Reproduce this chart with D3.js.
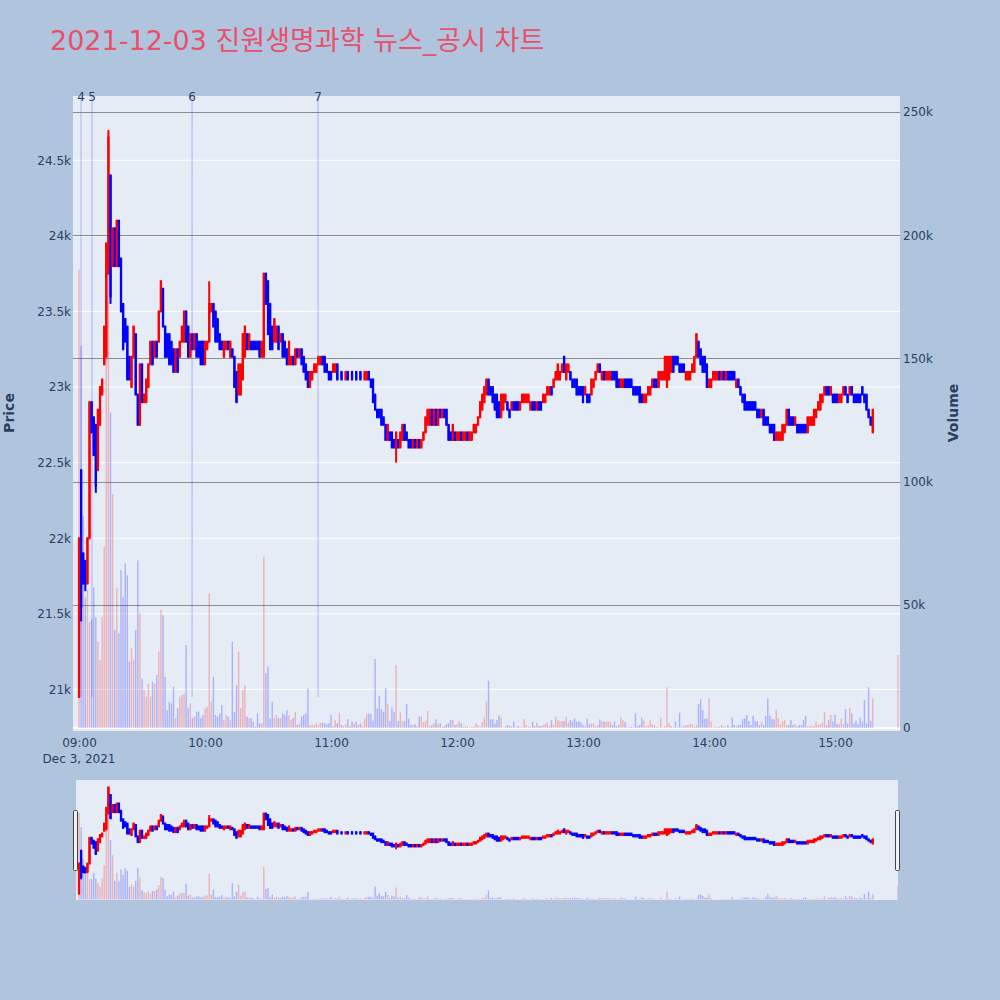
<!DOCTYPE html>
<html><head><meta charset="utf-8">
<script src="https://cdn.jsdelivr.net/npm/d3@7"></script>
<style>
body{margin:0;background:#b0c4de;}
text{font-family:'DejaVu Sans','Noto Sans CJK KR',sans-serif;}
</style>
</head><body>
<script>
// ---------------- DATA ----------------
const chartTitle = '2021-12-03 진원생명과학 뉴스_공시 차트';
const sessionStart = '09:00';           // first 1-minute bar, bars are consecutive minutes
const opens = [
20950,22450,21900,21850,21700,22000,22900,22800,22750,22450,
22750,22950,23150,23200,23750,24400,23800,24050,23800,24100,
23850,23550,23450,23400,23200,23000,23200,23350,22950,22750,
23150,22900,22900,23000,23150,23300,23200,23300,23300,23500,
23650,23400,23350,23350,23300,23250,23100,23250,23200,23300,
23300,23500,23400,23200,23350,23250,23350,23300,23300,23300,
23150,23250,23300,23500,23550,23500,23450,23350,23300,23200,
23250,23300,23200,23250,23200,23100,22950,22950,23050,23200,
23350,23250,23300,23300,23300,23300,23300,23200,23200,23750,
23700,23550,23400,23300,23300,23400,23300,23350,23300,23250,
23150,23150,23200,23150,23250,23200,23250,23200,23150,23100,
23000,23050,23100,23100,23150,23150,23200,23200,23150,23100,
23100,23100,23100,23150,23100,23100,23100,23050,23100,23100,
23100,23100,23100,23100,23100,23100,23050,23050,23100,23050,
23050,22950,22850,22850,22850,22800,22750,22650,22700,22700,
22650,22600,22650,22600,22650,22750,22700,22650,22650,22600,
22650,22600,22650,22600,22650,22700,22750,22750,22850,22750,
22850,22750,22850,22800,22850,22850,22750,22700,22650,22700,
22650,22650,22700,22650,22650,22700,22650,22650,22700,22700,
22750,22800,22850,22900,22950,23050,23000,23000,22950,22950,
22900,22800,22850,22900,22900,22850,22850,22900,22900,22900,
22850,22900,22900,22900,22900,22850,22900,22900,22850,22900,
22900,22900,22900,22950,22950,23000,23000,23050,23050,23050,
23100,23200,23050,23100,23100,23050,23050,23050,23000,23000,
23000,22950,22950,22950,22950,23000,23050,23100,23150,23050,
23100,23050,23050,23050,23100,23100,23100,23050,23000,23000,
23050,23050,23050,23050,23000,23000,23000,23000,22950,22900,
22900,22950,22950,23000,23050,23050,23000,23050,23050,23050,
23000,23050,23100,23200,23200,23200,23150,23150,23150,23050,
23050,23050,23100,23100,23200,23300,23250,23200,23200,23150,
23000,23000,23050,23050,23050,23100,23050,23100,23050,23100,
23100,23100,23100,23000,23050,23000,22950,22950,22900,22900,
22900,22900,22900,22850,22850,22800,22850,22800,22800,22750,
22750,22750,22650,22650,22650,22650,22700,22750,22850,22800,
22800,22750,22750,22750,22750,22750,22750,22700,22750,22750,
22750,22800,22850,22850,22900,22950,23000,23000,22950,22950,
22950,22950,22900,22900,22950,23000,22950,22950,23000,22950,
22950,22950,22950,23000,22950,22950,22850,22800,22700
];
const closes = [
22000,21550,21700,21700,22000,22900,22700,22550,22350,22850,
23000,23050,23400,23950,24650,23600,24050,23800,24100,23800,
23500,23250,23300,23050,23050,23200,23400,22950,22750,23150,
22900,22950,23050,23150,23300,23150,23300,23200,23500,23700,
23400,23200,23200,23150,23150,23100,23250,23100,23300,23400,
23500,23300,23200,23350,23250,23350,23200,23200,23150,23150,
23300,23300,23550,23550,23400,23300,23300,23250,23250,23300,
23300,23250,23300,23200,23000,22900,23150,23150,23350,23400,
23250,23350,23250,23250,23250,23250,23200,23300,23750,23550,
23350,23250,23250,23450,23400,23250,23350,23200,23200,23150,
23300,23200,23150,23250,23200,23250,23150,23100,23050,23000,
23100,23100,23150,23150,23200,23200,23150,23100,23100,23050,
23050,23150,23150,23050,23100,23050,23100,23100,23050,23100,
23050,23100,23050,23100,23050,23100,23100,23100,23050,23000,
22900,22850,22800,22800,22750,22750,22650,22750,22650,22600,
22600,22700,22600,22700,22750,22650,22650,22600,22600,22650,
22600,22650,22600,22650,22700,22800,22850,22850,22750,22850,
22750,22850,22800,22850,22800,22750,22650,22650,22750,22650,
22700,22700,22650,22700,22700,22650,22700,22700,22750,22750,
22800,22900,22950,23000,23050,22950,22950,22900,22850,22800,
22800,22950,22950,22950,22850,22800,22900,22850,22850,22850,
22900,22950,22950,22950,22950,22900,22850,22850,22900,22850,
22850,22950,22950,23000,23000,22950,23050,23100,23150,23100,
23150,23100,23150,23150,23050,23000,23000,22950,22950,22950,
22900,23000,22900,22900,23050,23050,23100,23150,23100,23100,
23050,23100,23100,23100,23050,23050,23000,23000,23050,23050,
23000,23000,23000,23000,22950,22950,22950,22900,22900,22950,
22950,23000,23000,23050,23000,23000,23100,23100,23100,23200,
23200,23200,23200,23100,23150,23150,23100,23100,23100,23100,
23100,23100,23150,23200,23350,23200,23150,23100,23100,23000,
23050,23050,23100,23100,23100,23050,23100,23050,23100,23050,
23050,23050,23050,23050,23000,22950,22900,22850,22850,22850,
22850,22850,22850,22800,22800,22850,22750,22750,22750,22700,
22700,22650,22700,22700,22700,22750,22750,22850,22750,22750,
22750,22800,22700,22700,22700,22700,22700,22800,22800,22800,
22850,22850,22900,22950,22950,23000,22950,22950,23000,22900,
22900,22900,22950,22950,23000,22950,22900,23000,22950,22900,
22900,22900,22900,22950,22900,22850,22800,22750,22850
];
const volumes = [
186000,155000,86000,53000,56000,43000,44000,57000,45000,35000,
27600,45000,73600,196000,242000,128000,95000,39800,57000,38400,
64000,53000,66800,62000,26900,32300,27600,39800,68000,46500,
20100,15400,12700,18000,12700,18800,18000,21500,31000,47900,
45800,20800,7300,10700,10000,16800,4000,8000,12700,13400,
14000,33700,8000,10000,4000,4600,6600,6600,4000,5300,
8000,8600,54600,10700,20800,5300,4600,5900,9300,3200,
5300,4600,3200,35000,6600,17400,31000,8000,15400,17400,
4600,4000,4000,2500,500,5900,1900,1900,69500,22200,
24900,4000,10700,4000,5300,4000,4000,5900,5300,7300,
5300,3200,4000,6600,1200,1900,4600,5300,5900,16000,
1200,1200,1200,1900,1200,1900,2200,1900,1500,2000,
5300,800,3200,1900,6200,1200,800,1600,3600,800,
2600,1900,2600,1200,1900,800,3900,5700,5900,5700,
3000,28000,8000,13000,7600,6600,16100,9700,2800,8400,
6600,25600,2800,6300,2800,2800,9700,3900,1200,1200,
1500,800,4600,4600,2300,2600,6900,800,1200,1900,
3500,1600,1900,500,800,1600,1900,3200,3200,1200,
1500,2800,1900,500,800,500,300,500,500,1900,
1200,500,2300,4200,10700,19200,3600,3500,1900,3200,
5100,4200,300,500,1200,800,800,2600,300,800,
500,500,3600,1200,500,500,2600,800,2200,800,
800,1200,1600,2200,800,3200,1200,4600,3200,2800,
2800,2800,4600,2200,3200,2600,3900,2600,2800,2200,
1200,800,3900,1500,1900,1900,800,1200,3500,2600,
2600,2600,2600,2600,1200,2600,800,1200,4300,3200,
2400,300,300,500,300,5900,800,1200,4300,3000,
800,1200,3200,1600,1200,300,300,4300,300,800,
16500,1900,800,300,2600,300,6200,300,800,1200,
1200,1600,1600,500,1200,9700,11750,7300,3800,3900,
12000,2600,300,500,500,500,1200,500,300,1200,
300,4300,1200,800,1200,1200,3650,3900,5270,2800,
1200,5000,2800,2800,1200,2300,1200,4900,12000,5100,
3800,3500,7300,3900,1600,2600,3200,1200,1200,3200,
1200,1600,500,1200,1200,3200,4900,500,800,800,
800,2600,1200,1600,2200,6500,1200,3200,5300,2600,
5300,1600,1600,3900,1600,7700,1900,8250,5900,1900,
3000,1600,4300,2600,11400,1900,16500,2800,12000
];
// wick extremes that reach beyond the candle body
const wickIdx  = [1,     3,     8,     14,    15,    62,    88,    151];
const wickHigh = [22450, null,  null,  24700, null,  23700, 23750, null];
const wickLow  = [21450, 21650, 22300, null,  23550, null,  null,  22500];
// closing auction bar
const auctionTime = '15:30';
const auctionOpen = 22900, auctionClose = 22900, auctionVolume = 29600;
// news / disclosure markers
const newsTimes  = ['09:00:57', '09:06:10', '09:53:50', '10:53:50'];
const newsLabels = ['4', '5', '6', '7'];
const newsSpan   = [20950, 24925];
// axes
const priceTicks  = [21000, 21500, 22000, 22500, 23000, 23500, 24000, 24500];
const volumeTicks = [0, 50000, 100000, 150000, 200000, 250000];
const timeTicks   = ['09:00','10:00','11:00','12:00','13:00','14:00','15:00'];
const dateLabel   = 'Dec 3, 2021';
const priceRange  = [20725, 24925];
const volumeRange = [-1218, 256494];
const timeRange   = ['08:57:08', '15:30:57'];

// ---------------- BUILD ----------------
const day = (s) => { const p = s.split(':').map(Number); return new Date(2021, 11, 3, p[0], p[1], p[2] || 0); };
const t0 = day(sessionStart);
const nReg = Math.min(opens.length, closes.length, volumes.length);
const bars = [];
for (let i = 0; i < nReg; i++) bars.push({t: new Date(t0.getTime() + i * 60000), o: opens[i], c: closes[i], v: volumes[i]});
bars.push({t: day(auctionTime), o: auctionOpen, c: auctionClose, v: auctionVolume});
let prevInc = true, prevC = null;
bars.forEach((b, i) => {
  let inc;
  if (b.c !== b.o) inc = b.c > b.o;
  else if (prevC !== null && b.c !== prevC) inc = b.c > prevC;
  else inc = prevInc;
  b.inc = inc; prevInc = inc; prevC = b.c;
  b.h = Math.max(b.o, b.c); b.l = Math.min(b.o, b.c);
});
wickIdx.forEach((k, j) => {
  if (!bars[k]) return;
  if (wickHigh[j] != null) bars[k].h = Math.max(bars[k].h, wickHigh[j]);
  if (wickLow[j] != null) bars[k].l = Math.min(bars[k].l, wickLow[j]);
});

const RED = '#ff0000', BLUE = '#0000ff', FONT = '#2a3f5f';
const P = {l: 73, r: 900, t: 96, b: 731};
const S = {l: 76, r: 898, t: 780, b: 900};

const svg = d3.select('body').append('svg').attr('width', 1000).attr('height', 1000);
svg.append('rect').attr('width', 1000).attr('height', 1000).attr('fill', '#b0c4de');

const x = d3.scaleTime().domain(timeRange.map(day)).range([P.l, P.r]);
const yP = d3.scaleLinear().domain(priceRange).range([P.b, P.t]);
const yV = d3.scaleLinear().domain(volumeRange).range([P.b, P.t]);
const yPs = d3.scaleLinear().domain(priceRange).range([S.b, S.t]);
const yVs = d3.scaleLinear().domain(volumeRange).range([S.b, S.t]);

const defs = svg.append('defs');
defs.append('clipPath').attr('id', 'clipMain').append('rect').attr('x', P.l).attr('y', P.t).attr('width', P.r - P.l).attr('height', P.b - P.t);
defs.append('clipPath').attr('id', 'clipSlider').append('rect').attr('x', S.l).attr('y', S.t).attr('width', S.r - S.l).attr('height', S.b - S.t);

// title
svg.append('text').attr('x', 50).attr('y', 50).attr('font-size', 27).attr('fill', '#e8506a').text(chartTitle);

// plot background + grids
svg.append('rect').attr('x', P.l).attr('y', P.t).attr('width', P.r - P.l).attr('height', P.b - P.t).attr('fill', '#e5ecf6');
const gGrid = svg.append('g');
gGrid.selectAll('.pg').data(priceTicks).join('line')
  .attr('x1', P.l).attr('x2', P.r).attr('y1', d => yP(d)).attr('y2', d => yP(d))
  .attr('stroke', '#fff').attr('stroke-width', 1);
gGrid.selectAll('.vg').data(volumeTicks.filter(d => d > 0)).join('line')
  .attr('x1', P.l).attr('x2', P.r).attr('y1', d => Math.round(yV(d)) + 0.5).attr('y2', d => Math.round(yV(d)) + 0.5)
  .attr('stroke', '#8c8c8c').attr('stroke-width', 1);
gGrid.append('line').attr('x1', P.l).attr('x2', P.r).attr('y1', yV(0)).attr('y2', yV(0)).attr('stroke', '#fff').attr('stroke-width', 2);

function drawTraces(g, yPrice, yVol) {
  // volume bars
  g.append('g').selectAll('rect').data(bars).join('rect')
    .attr('x', d => x(d.t) - 0.7).attr('width', 1.4)
    .attr('y', d => yVol(d.v)).attr('height', d => Math.max(0, yVol(0) - yVol(d.v)))
    .attr('fill', d => d.inc ? RED : BLUE).attr('fill-opacity', 0.25);
  // candles: wick + body
  const gc = g.append('g');
  gc.selectAll('.wick').data(bars).join('line')
    .attr('x1', d => x(d.t)).attr('x2', d => x(d.t))
    .attr('y1', d => yPrice(d.h)).attr('y2', d => yPrice(d.l))
    .attr('stroke', d => d.inc ? RED : BLUE).attr('stroke-width', 2);
  gc.selectAll('.body').data(bars).join('rect')
    .attr('x', d => x(d.t) - 0.15).attr('width', 0.3)
    .attr('y', d => yPrice(Math.max(d.o, d.c))).attr('height', d => Math.abs(yPrice(d.o) - yPrice(d.c)))
    .attr('fill', d => d.inc ? RED : BLUE)
    .attr('stroke', d => d.inc ? RED : BLUE).attr('stroke-width', 2);
}

// news lines (under traces)
const gNews = svg.append('g').attr('clip-path', 'url(#clipMain)');
gNews.selectAll('line').data(newsTimes).join('line')
  .attr('x1', d => x(day(d))).attr('x2', d => x(day(d)))
  .attr('y1', yP(newsSpan[0])).attr('y2', yP(newsSpan[1]))
  .attr('stroke', '#636efa').attr('stroke-opacity', 0.45).attr('stroke-width', 1);

const gMain = svg.append('g').attr('clip-path', 'url(#clipMain)');
drawTraces(gMain, yP, yV);

svg.append('g').selectAll('text').data(newsTimes).join('text')
  .attr('x', d => x(day(d))).attr('y', yP(newsSpan[1]) + 4.5)
  .attr('text-anchor', 'middle').attr('font-size', 12).attr('fill', FONT)
  .text((d, i) => newsLabels[i]);

// axes
const axL = svg.append('g').attr('transform', `translate(${P.l},0)`)
  .call(d3.axisLeft(yP).tickValues(priceTicks).tickSize(0).tickPadding(2).tickFormat(d => (d / 1000) + 'k'));
const axR = svg.append('g').attr('transform', `translate(${P.r},0)`)
  .call(d3.axisRight(yV).tickValues(volumeTicks).tickSize(0).tickPadding(3).tickFormat(d => d === 0 ? '0' : (d / 1000) + 'k'));
const axB = svg.append('g').attr('transform', `translate(0,${P.b})`)
  .call(d3.axisBottom(x).tickValues(timeTicks.map(day)).tickSize(0).tickPadding(7).tickFormat(d3.timeFormat('%H:%M')));
[axL, axR, axB].forEach(a => {
  a.select('.domain').remove();
  a.selectAll('text').attr('font-size', 12).attr('fill', FONT).attr('font-family', "'DejaVu Sans',sans-serif");
});
svg.append('text').attr('x', x(day(timeTicks[0]))).attr('y', 762.5).attr('text-anchor', 'middle')
  .attr('font-size', 12).attr('fill', FONT).text(dateLabel);

svg.append('text').attr('transform', 'translate(14,413) rotate(-90)').attr('text-anchor', 'middle')
  .attr('font-size', 14).attr('font-weight', 'bold').attr('fill', FONT).text('Price');
svg.append('text').attr('transform', 'translate(958,413) rotate(-90)').attr('text-anchor', 'middle')
  .attr('font-size', 14).attr('font-weight', 'bold').attr('fill', FONT).text('Volume');

// range slider
svg.append('rect').attr('x', S.l).attr('y', S.t).attr('width', S.r - S.l).attr('height', S.b - S.t).attr('fill', '#e5ecf6');
const gSl = svg.append('g').attr('clip-path', 'url(#clipSlider)');
drawTraces(gSl, yPs, yVs);
[S.l, S.r].forEach(px => {
  svg.append('rect').attr('x', px - 2.5).attr('y', S.t + 30.5).attr('width', 4).attr('height', 60)
    .attr('fill', '#f2f2f2').attr('stroke', '#444').attr('stroke-width', 1).attr('rx', 1);
});
</script>
</body></html>
